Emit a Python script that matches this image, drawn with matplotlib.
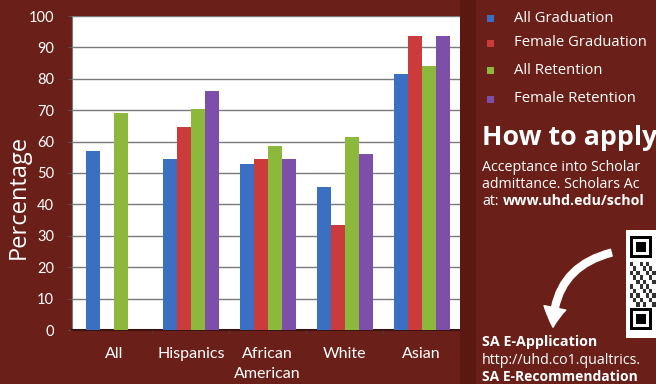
import numpy as np
import matplotlib
matplotlib.use("Agg")
import matplotlib.pyplot as plt
from matplotlib.patches import Rectangle, FancyArrowPatch

# =========================================================
# DATA
# =========================================================

categories = ["All", "Hispanics", "African\nAmerican", "White", "Asian"]

all_graduation = [57, 54.5, 53, 45.5, 81.5]
female_graduation = [np.nan, 64.5, 54.5, 33.5, 93.5]
all_retention = [69, 70.5, 58.5, 61.5, 84]
female_retention = [np.nan, 76, 54.5, 56, 93.5]

series_names = ["All Graduation", "Female Graduation", "All Retention", "Female Retention"]
series_values = [all_graduation, female_graduation, all_retention, female_retention]
series_colors = ["#3b6fc2", "#cc3b3b", "#8cb83c", "#7d4fa9"]

BG = "#6a2018"
W, H = 656, 384


def px(x, y):
    return x / W, 1 - y / H


plt.rcParams["font.family"] = ["Lato", "DejaVu Sans"]

fig = plt.figure(figsize=(6.56, 3.84), dpi=100)
fig.patch.set_facecolor(BG)

# darker band right of the plot
fig.patches.append(Rectangle(px(460, 384), 16 / W, 1, transform=fig.transFigure,
                             facecolor="#5a1810", edgecolor="none", zorder=0))

ax = fig.add_axes([72 / W, 54 / H, 388 / W, 314 / H])
ax.set_facecolor("white")

# =========================================================
# BARS
# =========================================================

x = np.arange(len(categories))
bw = 0.182
for i, (name, vals, col) in enumerate(zip(series_names, series_values, series_colors)):
    ax.bar(x + (i - 1.5) * bw, vals, width=bw, color=col, label=name, zorder=3)

ax.set_xlim(-0.545, 4.5)
ax.set_ylim(0, 100)
ax.set_yticks(np.arange(0, 101, 10))
ax.grid(axis="y", color="#7a7a7a", linewidth=1.0, zorder=0)
ax.set_axisbelow(True)

ax.set_xticks(x)
ax.set_xticklabels(categories, color="white", fontsize=11.5, linespacing=1.55)
ax.set_xticks(np.arange(0.5, 4.5, 1), minor=True)
ax.tick_params(axis="x", which="major", length=0, pad=12)
ax.tick_params(axis="x", which="minor", length=3, color="#444444", direction="out")
ax.tick_params(axis="y", colors="white", labelsize=10.5, length=3, pad=10)
ax.tick_params(axis="y", color="#555555")

for s in ["top", "right"]:
    ax.spines[s].set_visible(False)
ax.spines["left"].set_color("#777777")
ax.spines["bottom"].set_color("#3a1410")
ax.spines["bottom"].set_linewidth(1.5)

fig.text(*px(19, 197), "Percentage", color="white", fontsize=17,
         family="Open Sans", rotation=90, ha="center", va="center")

# =========================================================
# LEGEND
# =========================================================

legend_y = [18, 43, 70, 99]
for name, col, ly in zip(series_names, series_colors, legend_y):
    fig.patches.append(Rectangle(px(487, ly + 4), 7 / W, 7 / H, transform=fig.transFigure,
                                 facecolor=col, edgecolor="none"))
    fig.text(*px(514, ly), name, color="white", fontsize=10.7,
             family="Open Sans", va="center")

# =========================================================
# SIDE TEXT
# =========================================================

fig.text(*px(482, 145), "How to apply", color="white", fontsize=19.3,
         fontweight="bold", family="Open Sans", va="baseline")
fig.text(*px(482, 171), "Acceptance into Scholar", color="white",
         fontsize=10.3, family="Open Sans", va="baseline")
fig.text(*px(482, 188), "admittance. Scholars Ac", color="white",
         fontsize=10.3, family="Open Sans", va="baseline")
fig.text(*px(482, 205), "at:", color="white", fontsize=10.3,
         family="Open Sans", va="baseline")
fig.text(*px(503, 205), "www.uhd.edu/schol", color="white", fontsize=10.3,
         family="Open Sans", fontweight="bold", va="baseline")

fig.text(*px(482, 346), "SA E-Application", color="white", fontsize=10.3,
         family="Open Sans", fontweight="bold", va="baseline")
fig.text(*px(482, 364), "http://uhd.co1.qualtrics.", color="white",
         fontsize=10.3, family="Open Sans", va="baseline")
fig.text(*px(482, 381), "SA E-Recommendation", color="white", fontsize=10,
         family="Open Sans", fontweight="bold", va="baseline")

# QR code box
qx, qy = 626, 230
fig.patches.append(Rectangle(px(qx, 338), 40 / W, 108 / H, transform=fig.transFigure,
                             facecolor="white", edgecolor="none"))
mod = 3.2
for (fx, fy) in [(qx + 4, qy + 6), (qx + 4, qy + 78)]:
    fig.patches.append(Rectangle(px(fx, fy + 7 * mod), 7 * mod / W, 7 * mod / H,
                                 transform=fig.transFigure, facecolor="black"))
    fig.patches.append(Rectangle(px(fx + mod, fy + 6 * mod), 5 * mod / W, 5 * mod / H,
                                 transform=fig.transFigure, facecolor="white"))
    fig.patches.append(Rectangle(px(fx + 2 * mod, fy + 5 * mod), 3 * mod / W, 3 * mod / H,
                                 transform=fig.transFigure, facecolor="black"))
for i in range(9):
    for j in range(10):
        if (i * 7 + j * 3) % 5 < 2:
            fig.patches.append(Rectangle(px(qx + 4 + i * mod, qy + 32 + (j + 1) * mod * 1.4),
                                         mod / W, mod * 1.4 / H,
                                         transform=fig.transFigure, facecolor="#333333"))

# curved arrow
arrow = FancyArrowPatch(px(614, 252), px(553, 330), transform=fig.transFigure,
                        connectionstyle="arc3,rad=0.4",
                        arrowstyle="simple,head_width=16,head_length=14,tail_width=5",
                        color="white", mutation_scale=1)
fig.patches.append(arrow)

fig.savefig("out.png", dpi=100, facecolor=BG)
